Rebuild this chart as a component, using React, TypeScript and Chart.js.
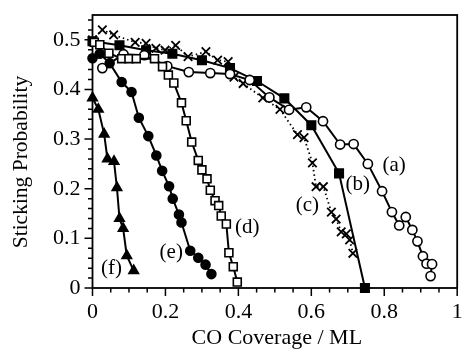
import React, { useEffect, useRef } from "react";
import { Chart, registerables } from "chart.js";

Chart.register(...registerables);

// ---- data (CO coverage / ML vs sticking probability) ----
const aX = [0.027, 0.085, 0.142, 0.205, 0.264, 0.323, 0.377, 0.431, 0.485, 0.539, 0.586, 0.632, 0.679, 0.716, 0.755, 0.794, 0.821, 0.841, 0.859, 0.877, 0.891, 0.906, 0.916, 0.931, 0.927];
const aY = [0.443, 0.471, 0.469, 0.447, 0.435, 0.433, 0.431, 0.419, 0.384, 0.359, 0.364, 0.336, 0.289, 0.29, 0.25, 0.195, 0.153, 0.126, 0.143, 0.117, 0.094, 0.064, 0.049, 0.048, 0.024];

const bX = [0, 0.074, 0.147, 0.219, 0.3, 0.377, 0.451, 0.526, 0.6, 0.676, 0.747];
const bY = [0.497, 0.489, 0.479, 0.472, 0.459, 0.443, 0.417, 0.382, 0.328, 0.231, 0];

const cX = [0, 0.027, 0.058, 0.117, 0.147, 0.174, 0.199, 0.228, 0.262, 0.311, 0.343, 0.372, 0.388, 0.413, 0.467, 0.514, 0.562, 0.58, 0.603, 0.613, 0.633, 0.655, 0.668, 0.682, 0.696, 0.705, 0.714];
const cY = [0.5, 0.52, 0.51, 0.495, 0.493, 0.483, 0.479, 0.489, 0.466, 0.476, 0.459, 0.456, 0.425, 0.412, 0.383, 0.36, 0.309, 0.303, 0.252, 0.204, 0.204, 0.153, 0.139, 0.113, 0.109, 0.097, 0.07];

const dX = [0.005, 0.02, 0.045, 0.08, 0.1, 0.12, 0.17, 0.192, 0.208, 0.223, 0.244, 0.257, 0.272, 0.29, 0.3, 0.314, 0.323, 0.336, 0.346, 0.353, 0.367, 0.374, 0.386, 0.397];
const dY = [0.495, 0.49, 0.473, 0.462, 0.462, 0.462, 0.462, 0.446, 0.429, 0.413, 0.373, 0.337, 0.294, 0.257, 0.238, 0.22, 0.197, 0.176, 0.166, 0.145, 0.129, 0.071, 0.043, 0.012];

const eX = [0, 0.02, 0.047, 0.08, 0.107, 0.127, 0.153, 0.175, 0.191, 0.21, 0.22, 0.237, 0.244, 0.268, 0.29, 0.31, 0.326];
const eY = [0.463, 0.472, 0.453, 0.415, 0.395, 0.343, 0.306, 0.267, 0.236, 0.205, 0.18, 0.148, 0.132, 0.075, 0.061, 0.047, 0.028];

const fX = [0, 0.016, 0.032, 0.041, 0.059, 0.067, 0.074, 0.084, 0.094, 0.113];
const fY = [0.383, 0.36, 0.31, 0.26, 0.255, 0.202, 0.14, 0.12, 0.065, 0.035];

const xTicks = [0, 0.2, 0.4, 0.6, 0.8, 1];
const xTickLabels = ["0", "0.2", "0.4", "0.6", "0.8", "1"];
const yTicks = [0, 0.1, 0.2, 0.3, 0.4, 0.5];
const yTickLabels = ["0", "0.1", "0.2", "0.3", "0.4", "0.5"];

const curveLabels = ["(a)", "(b)", "(c)", "(d)", "(e)", "(f)"];
const curveLabelX = [0.827, 0.727, 0.589, 0.424, 0.216, 0.052];
const curveLabelY = [0.246, 0.208, 0.166, 0.122, 0.072, 0.04];

const xTitle = "CO Coverage / ML";
const yTitle = "Sticking Probability";

const FONT = "'Liberation Serif', 'Times New Roman', serif";

const pts = (xs: number[], ys: number[]) => xs.map((x, i) => ({ x, y: ys[i] }));

const decor = {
  id: "decor",
  beforeDatasetsDraw(chart: any) {
    const { ctx, chartArea: ca, scales } = chart;
    const xs = scales.x;
    const ys = scales.y;
    ctx.save();
    ctx.strokeStyle = "#000";
    ctx.lineWidth = 1.8;
    ctx.strokeRect(ca.left, ca.top, ca.right - ca.left, ca.bottom - ca.top);
    ctx.lineWidth = 1.5;
    ctx.beginPath();
    for (let i = 0; i <= 27; i++) {
      const py = ys.getPixelForValue(i * 0.02);
      const len = i % 5 === 0 ? 8 : 4.5;
      ctx.moveTo(ca.left, py);
      ctx.lineTo(ca.left - len, py);
    }
    for (let i = 0; i <= 20; i++) {
      const px = xs.getPixelForValue(i * 0.05);
      const len = i % 4 === 0 ? 8 : 4.5;
      ctx.moveTo(px, ca.bottom);
      ctx.lineTo(px, ca.bottom + len);
    }
    ctx.stroke();
    ctx.restore();
  },
  afterDatasetsDraw(chart: any) {
    const { ctx, chartArea: ca, scales } = chart;
    ctx.save();
    ctx.fillStyle = "#000";
    ctx.textAlign = "center";
    ctx.textBaseline = "middle";
    ctx.font = `21px ${FONT}`;
    curveLabels.forEach((t, i) => {
      ctx.fillText(t, scales.x.getPixelForValue(curveLabelX[i]), scales.y.getPixelForValue(curveLabelY[i]));
    });
    ctx.font = `22px ${FONT}`;
    ctx.fillText(xTitle, (ca.left + ca.right) / 2 + 2, 338);
    ctx.translate(21, 162);
    ctx.rotate(-Math.PI / 2);
    ctx.font = `21.5px ${FONT}`;
    ctx.fillText(yTitle, 0, 0);
    ctx.restore();
  },
};

export default function App() {
  const ref = useRef<HTMLCanvasElement | null>(null);
  useEffect(() => {
    if (!ref.current) return;
    const common = { showLine: true, clip: false as any, borderColor: "#000", pointBorderColor: "#000", borderWidth: 2, pointBorderWidth: 1.6 };
    const chart = new Chart(ref.current, {
      type: "scatter",
      data: {
        datasets: [
          { ...common, label: "f", data: pts(fX, fY), pointStyle: "triangle", pointRadius: 5.5, pointBackgroundColor: "#000" },
          { ...common, label: "e", data: pts(eX, eY), pointStyle: "circle", pointRadius: 4.5, pointBackgroundColor: "#000" },
          { ...common, label: "d", data: pts(dX, dY), pointStyle: "rect", pointRadius: 5.6, pointBackgroundColor: "#fff" },
          { ...common, label: "a", data: pts(aX, aY), pointStyle: "circle", pointRadius: 4.6, pointBackgroundColor: "#fff" },
          { ...common, label: "c", data: pts(cX, cY), pointStyle: "crossRot", pointRadius: 6, borderWidth: 1.8, pointBorderWidth: 1.8, borderDash: [1.5, 3] },
          { ...common, label: "b", data: pts(bX, bY), pointStyle: "rect", pointRadius: 6, pointBackgroundColor: "#000" },
        ] as any,
      },
      options: {
        animation: false,
        responsive: true,
        maintainAspectRatio: false,
        layout: { padding: { top: 15, right: 3, left: 0, bottom: 0 } },
        plugins: { legend: { display: false }, tooltip: { enabled: false } },
        scales: {
          x: {
            type: "linear",
            min: 0,
            max: 1,
            afterBuildTicks: (s: any) => { s.ticks = xTicks.map((v) => ({ value: v })); },
            afterFit: (s: any) => { s.height = 64; s.paddingLeft = 0; s.paddingRight = 0; },
            grid: { display: false, drawTicks: false },
            border: { display: false },
            ticks: { color: "#000", font: { family: FONT, size: 22 }, padding: 11, maxRotation: 0, autoSkip: false, callback: (_v: any, i: number) => xTickLabels[i] },
          },
          y: {
            type: "linear",
            min: 0,
            max: 0.55,
            afterBuildTicks: (s: any) => { s.ticks = yTicks.map((v) => ({ value: v })); },
            afterFit: (s: any) => { s.width = 92.5; s.paddingTop = 0; s.paddingBottom = 0; },
            grid: { display: false, drawTicks: false },
            border: { display: false },
            ticks: { color: "#000", font: { family: FONT, size: 22 }, padding: 12, autoSkip: false, callback: (_v: any, i: number) => yTickLabels[i] },
          },
        },
      } as any,
      plugins: [decor],
    });
    return () => chart.destroy();
  }, []);
  return (
    <div style={{ position: "absolute", left: 0, top: 0, width: 465, height: 352, background: "#fff" }}>
      <canvas ref={ref} />
    </div>
  );
}
